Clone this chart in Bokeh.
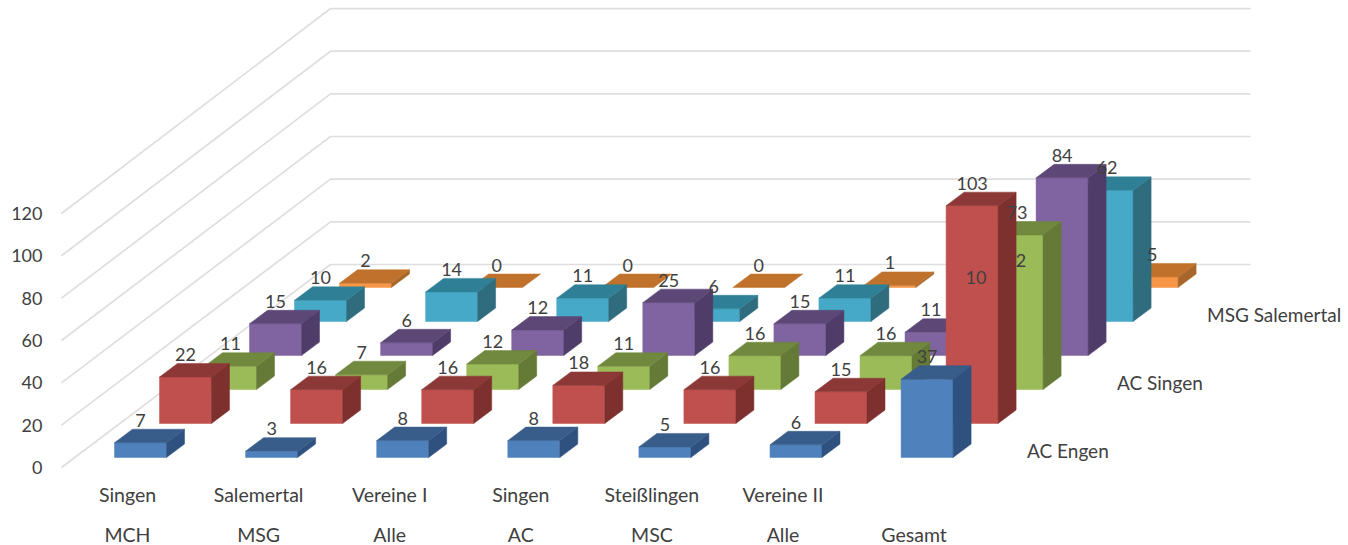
from bokeh.plotting import figure
from bokeh.models import Range1d, ColumnDataSource
from bokeh.core.properties import value
from bokeh.embed import file_html
from bokeh.resources import INLINE

# ---- data ----
cat_top = ["Singen", "Salemertal", "Vereine I", "Singen", "Steißlingen", "Vereine II", ""]
cat_bottom = ["MCH", "MSG", "Alle", "AC", "MSC", "Alle", "Gesamt"]
series_labels = ["AC Engen", "", "AC Singen", "", "MSG Salemertal", ""]
y_ticks = [0, 20, 40, 60, 80, 100, 120]

blue = [7, 3, 8, 8, 5, 6, 37]
red = [22, 16, 16, 18, 16, 15, 103]
green = [11, 7, 12, 11, 16, 16, 73]
purple = [15, 6, 12, 25, 15, 11, 84]
teal = [10, 14, 11, 6, 11, 10, 62]
orange = [2, 0, 0, 0, 1, 2, 5]
series = [blue, red, green, purple, teal, orange]

front_colors = ["#4F81BD", "#C0504D", "#9BBB59", "#8064A2", "#46A9C7", "#F79646"]
top_colors = ["#385D8A", "#8C3836", "#71893F", "#5C4776", "#2F8096", "#C0722C"]
side_colors = ["#2F5180", "#7D302E", "#647A36", "#4F3C69", "#2E6C7E", "#A9662A"]

# ---- projection of the 3-D chart onto the page ----
X0, Y0 = 114, 457          # front-left foot of the first bar
COL_DX = 131.1             # shift per category
ROW_DX, ROW_DY = 45, -34   # shift per series (towards the back)
BAR_W = 52
DEPTH_X, DEPTH_Y = 18, -13.5
UNIT = 2.115               # pixels per value unit

WALL_FX, WALL_FY = 61, 467
WALL_BX, WALL_BY = 330, 264
WALL_RX = 1250
WALL_FU, WALL_BU = 2.117, 2.133

p = figure(width=1348, height=545, output_backend="svg", toolbar_location=None,
           x_range=Range1d(0, 1348), y_range=Range1d(545, 0),
           x_axis_type=None, y_axis_type=None, min_border=0,
           background_fill_color="white", border_fill_color="white")
p.grid.visible = False
p.outline_line_color = None

# walls
gx, gy = [], []
for t in y_ticks:
    gx.append([WALL_FX, WALL_BX, WALL_RX])
    gy.append([WALL_FY - t * WALL_FU, WALL_BY - t * WALL_BU, WALL_BY - t * WALL_BU])
p.multi_line(gx, gy, line_color="#DEDEDE", line_width=1.7)

# bars, back row first
xs, ys, fills = [], [], []
for r in range(len(series) - 1, -1, -1):
    for c, v in enumerate(series[r]):
        x = X0 + c * COL_DX + r * ROW_DX
        b = Y0 + r * ROW_DY
        t = b - v * UNIT
        if v > 0:
            xs.append([x, x + BAR_W, x + BAR_W, x]); ys.append([b, b, t, t]); fills.append(front_colors[r])
            xs.append([x + BAR_W, x + BAR_W + DEPTH_X, x + BAR_W + DEPTH_X, x + BAR_W])
            ys.append([b, b + DEPTH_Y, t + DEPTH_Y, t]); fills.append(side_colors[r])
        xs.append([x, x + BAR_W, x + BAR_W + DEPTH_X, x + DEPTH_X])
        ys.append([t, t, t + DEPTH_Y, t + DEPTH_Y]); fills.append(top_colors[r])
p.patches(xs="xs", ys="ys", fill_color="fills", line_color="fills", line_width=0.5,
          source=ColumnDataSource(dict(xs=xs, ys=ys, fills=fills)))

FONT = value("Lato")
NUM_SIZE = "18px"
TXT_SIZE = "19.5px"
SER_SIZE = "19px"
INK = "#404040"

# data labels
lx, ly, lt = [], [], []
for r, vals in enumerate(series):
    for c, v in enumerate(vals):
        lx.append(X0 + c * COL_DX + r * ROW_DX + BAR_W / 2)
        ly.append(Y0 + r * ROW_DY - v * UNIT - 22.5)
        lt.append(str(v))
p.text(lx, ly, text=lt, text_font=FONT, text_font_size=NUM_SIZE, text_color=INK,
       text_align="center", text_baseline="middle")

# value axis labels
p.text([42] * len(y_ticks), [WALL_FY - t * WALL_FU for t in y_ticks], text=[str(t) for t in y_ticks],
       text_font=FONT, text_font_size=NUM_SIZE, text_color=INK, text_align="right", text_baseline="middle")

# category labels
cx = [X0 + 13 + c * COL_DX for c in range(len(cat_bottom))]
p.text(cx, [493.5] * len(cx), text=cat_top, text_font=FONT, text_font_size=TXT_SIZE, text_color=INK,
       text_align="center", text_baseline="middle")
p.text(cx, [533.5] * len(cx), text=cat_bottom, text_font=FONT, text_font_size=TXT_SIZE, text_color=INK,
       text_align="center", text_baseline="middle")

# series labels
sx = [1026.5 + r * ROW_DX for r in range(len(series_labels))]
sy = [449.5 + r * ROW_DY * 0.995 for r in range(len(series_labels))]
p.text(sx, sy, text=series_labels, text_font=FONT, text_font_size=SER_SIZE, text_color=INK,
       text_align="left", text_baseline="middle")

open("out.html", "w").write(file_html(p, INLINE))
